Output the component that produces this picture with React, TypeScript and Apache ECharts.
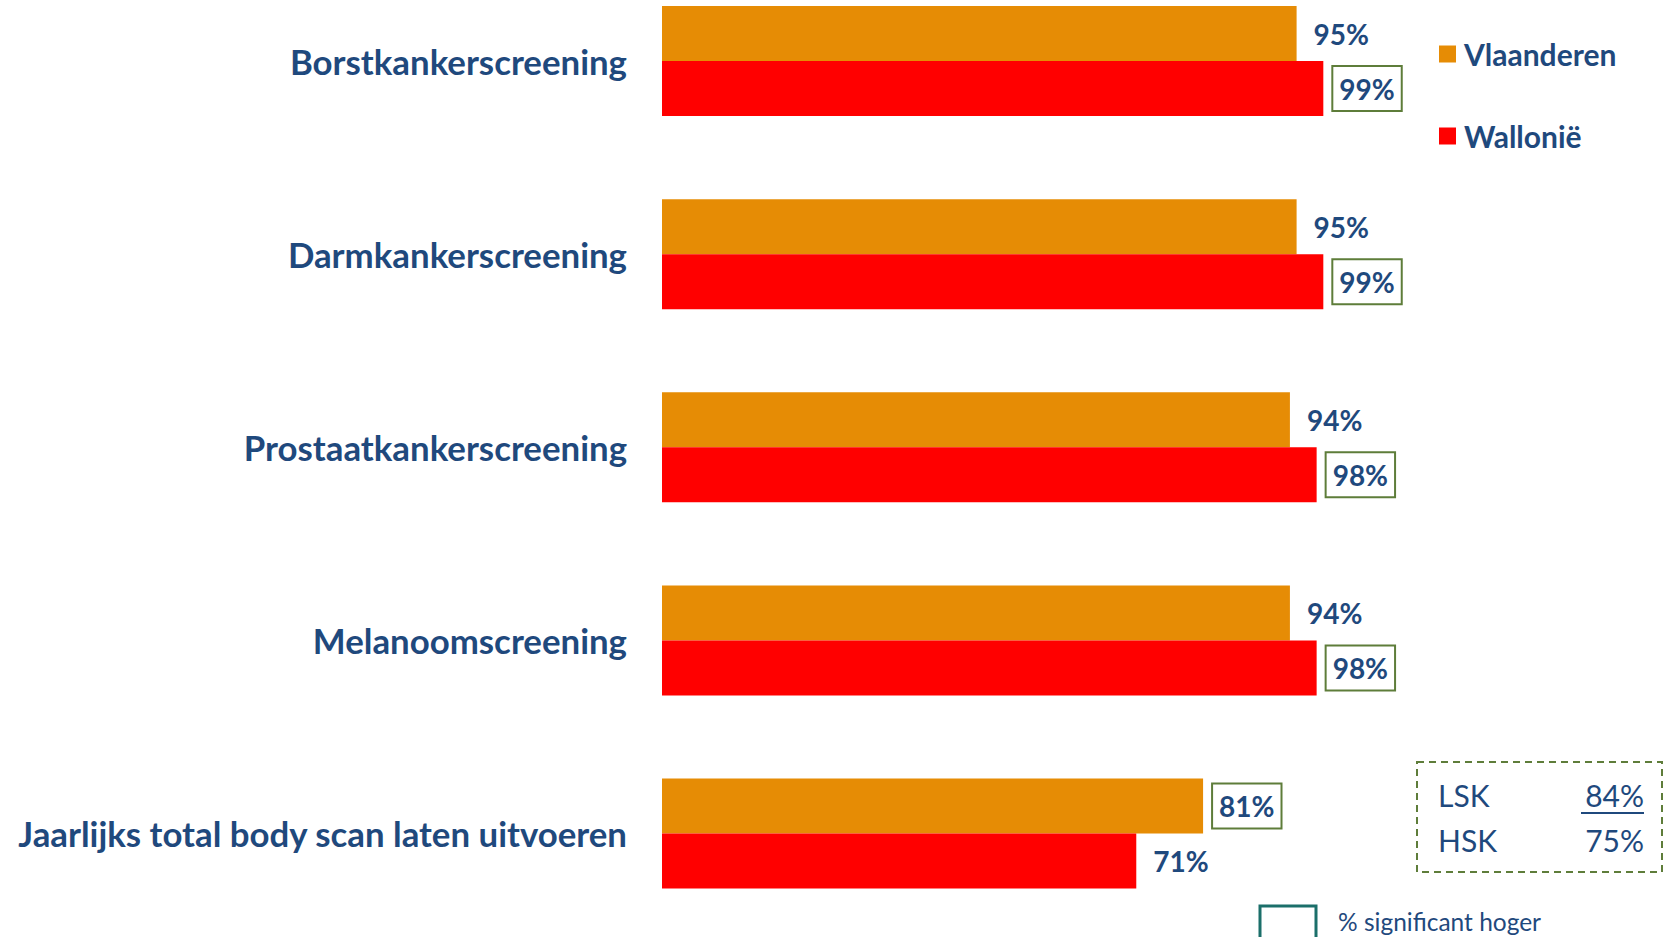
import React, { useEffect, useRef } from "react";
import * as echarts from "echarts";

const categories = [
  "Borstkankerscreening",
  "Darmkankerscreening",
  "Prostaatkankerscreening",
  "Melanoomscreening",
  "Jaarlijks total body scan laten uitvoeren",
];
const vlaanderen = [95, 95, 94, 94, 81];
const wallonie = [99, 99, 98, 98, 71];
const vlaanderenSignificant = [false, false, false, false, true];
const wallonieSignificant = [true, true, true, true, false];
const seriesNames = ["Vlaanderen", "Wallonië"];
const skRows = ["LSK", "HSK"];
const skValues = ["84%", "75%"];
const noteText = "% significant hoger";

const TEXT = "#1F497D";
const FONT = "Lato";
const ORANGE = "#E68C05";
const RED = "#FF0000";
const BOX = "#5E7D3A";

function makeData(values: number[], sig: boolean[]) {
  return values.map((v, i) => ({
    value: v,
    label: {
      borderColor: sig[i] ? BOX : "transparent",
      borderWidth: 2,
      distance: sig[i] ? 9 : 10,
    },
  }));
}

export default function App() {
  const ref = useRef<HTMLDivElement>(null);
  useEffect(() => {
    document.body.style.margin = "0";
    const chart = echarts.init(ref.current!, null, { renderer: "svg" });
    const labelBase = {
      show: true,
      position: "right",
      formatter: "{c}%",
      color: TEXT,
      fontFamily: FONT,
      fontWeight: "bold",
      fontSize: 28,
      padding: [9, 7, 8, 7],
    };
    chart.setOption({
      animation: false,
      grid: { left: 662, top: 61, width: 668, height: 772.5, containLabel: false },
      xAxis: { type: "value", min: 0, max: 100, show: false },
      yAxis: {
        type: "category",
        data: categories,
        inverse: true,
        boundaryGap: false,
        axisLine: { show: false },
        axisTick: { show: false },
        splitLine: { show: false },
        axisLabel: {
          margin: 35,
          color: TEXT,
          fontFamily: FONT,
          fontWeight: "bold",
          fontSize: 34.8,
          padding: [0, 0, 6, 0],
        },
      },
      legend: {
        orient: "vertical",
        left: 1434,
        top: 34,
        itemWidth: 17,
        itemHeight: 17,
        itemGap: 52,
        icon: "rect",
        data: seriesNames,
        textStyle: {
          color: TEXT,
          fontFamily: FONT,
          fontWeight: "bold",
          fontSize: 30,
          padding: [0, 0, 0, 3],
        },
      },
      series: [
        {
          name: seriesNames[0],
          type: "bar",
          barWidth: 55,
          barGap: "0%",
          itemStyle: { color: ORANGE },
          label: labelBase,
          data: makeData(vlaanderen, vlaanderenSignificant),
        },
        {
          name: seriesNames[1],
          type: "bar",
          barWidth: 55,
          barGap: "0%",
          itemStyle: { color: RED },
          label: labelBase,
          data: makeData(wallonie, wallonieSignificant),
        },
      ],
      graphic: [
        {
          type: "rect",
          shape: { x: 1417, y: 762, width: 245, height: 110 },
          style: { fill: "none", stroke: BOX, lineWidth: 2, lineDash: [7, 5] },
        },
        ...skRows.map((r, i) => ({
          type: "text",
          x: 1438,
          y: 795 + i * 45,
          style: {
            text: r,
            fill: TEXT,
            font: `30px ${FONT}`,
            textAlign: "left",
            textVerticalAlign: "middle",
          },
        })),
        ...skValues.map((v, i) => ({
          type: "text",
          x: 1644,
          y: 795 + i * 45,
          style: {
            text: v,
            fill: TEXT,
            font: `30px ${FONT}`,
            textAlign: "right",
            textVerticalAlign: "middle",
          },
        })),
        {
          type: "line",
          shape: { x1: 1581, y1: 813, x2: 1644, y2: 813 },
          style: { stroke: TEXT, lineWidth: 2 },
        },
        {
          type: "rect",
          shape: { x: 1260, y: 906, width: 56, height: 45 },
          style: { fill: "none", stroke: "#1B6F6A", lineWidth: 3 },
        },
        {
          type: "text",
          x: 1338,
          y: 921,
          style: {
            text: noteText,
            fill: TEXT,
            font: `24.5px ${FONT}`,
            textAlign: "left",
            textVerticalAlign: "middle",
          },
        },
      ],
    });
    return () => chart.dispose();
  }, []);
  return <div ref={ref} style={{ width: 1664, height: 937 }} />;
}
